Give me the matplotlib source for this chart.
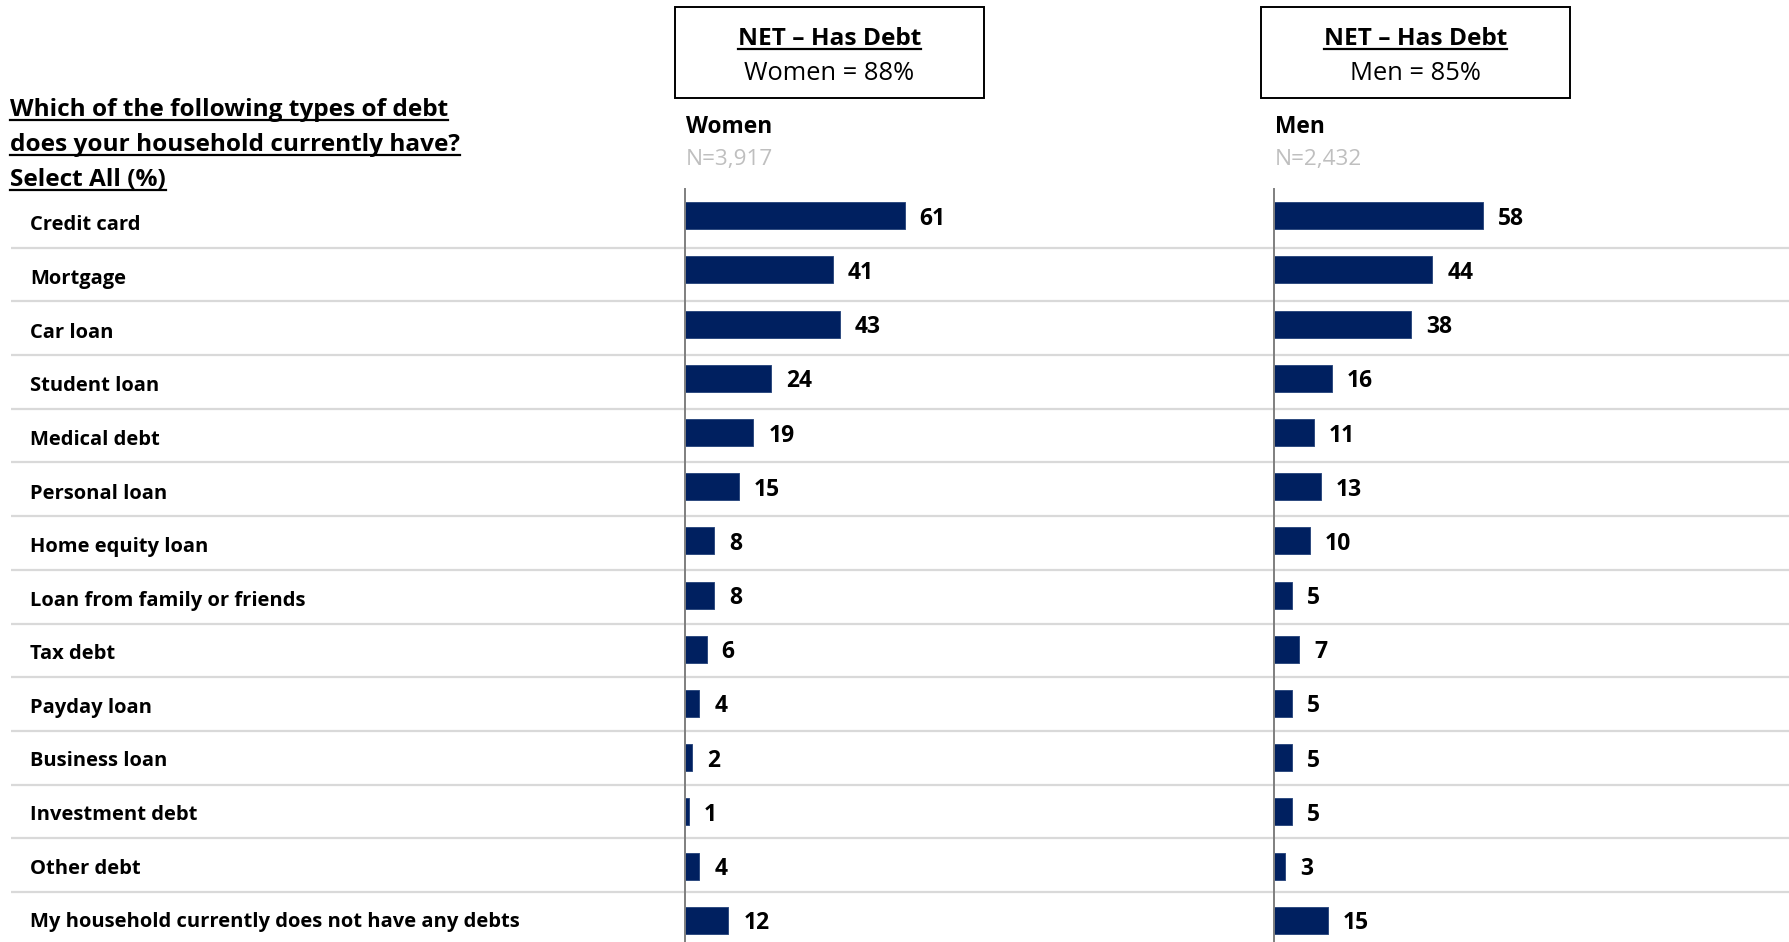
import matplotlib
matplotlib.use("Agg")
import matplotlib.pyplot as plt
from matplotlib.lines import Line2D
from matplotlib.patches import Rectangle

# ---- data -------------------------------------------------------------
categories = [
    "Credit card",
    "Mortgage",
    "Car loan",
    "Student loan",
    "Medical debt",
    "Personal loan",
    "Home equity loan",
    "Loan from family or friends",
    "Tax debt",
    "Payday loan",
    "Business loan",
    "Investment debt",
    "Other debt",
    "My household currently does not have any debts",
]
women = [61, 41, 43, 24, 19, 15, 8, 8, 6, 4, 2, 1, 4, 12]
men = [58, 44, 38, 16, 11, 13, 10, 5, 7, 5, 5, 5, 3, 15]

groups = ["Women", "Men"]
sample_sizes = ["N=3,917", "N=2,432"]
net_has_debt = [88, 85]
net_title = "NET \u2013 Has Debt"
title_lines = [
    "Which of the following types of debt",
    "does your household currently have?",
    "Select All (%)",
]

# ---- styling ----------------------------------------------------------
FONT = "Open Sans"
NAVY = "#002060"
GRID = "#d9d9d9"
AXIS = "#7f7f7f"
NCOLOR = "#bfbfbf"

W, H = 1789, 942
fig = plt.figure(figsize=(W / 100, H / 100), dpi=100)
fig.patch.set_facecolor("white")


def fx(px):
    return px / W


def fy(py):
    return 1 - py / H


n = len(categories)
row_top, row_h = 188.6, 54.2
rect_y = fy(row_top + row_h * n)
rect_h = row_h * n / H


def row_from_px(py):
    """Convert a vertical pixel position into the row coordinate."""
    return (py - row_top) / row_h - 0.5


# background axes for row labels and separators
bg = fig.add_axes([0, rect_y, 1, rect_h])
bg.set_xlim(0, W)
bg.set_ylim(n - 0.5, -0.5)
bg.axis("off")
sep_first, sep_step = 247.6, 53.7
for i in range(n - 1):
    yy = row_from_px(sep_first + sep_step * i)
    bg.plot([11, W], [yy, yy], color=GRID, lw=1.6,
            solid_capstyle="butt", zorder=0)
label_first, label_step = 225.5, 53.6
for i, cat in enumerate(categories):
    bg.text(30, row_from_px(label_first + label_step * i), cat,
            fontfamily=FONT, fontweight="bold", fontsize=14.5,
            va="center", ha="left", color="black")

# bar panels
panel_left = [685, 1274]
px_per_unit = 3.6
series = [women, men]

for left, vals in zip(panel_left, series):
    ax = fig.add_axes([fx(left), rect_y, 100 * px_per_unit / W, rect_h])
    ax.set_xlim(0, 100)
    ax.set_ylim(n - 0.5, -0.5)
    ax.patch.set_alpha(0)
    ax.barh(range(n), vals, height=0.5, color=NAVY, edgecolor="#2f4b80",
            linewidth=0.7, zorder=2)
    for i, v in enumerate(vals):
        ax.annotate(str(v), xy=(v, i), xytext=(10.8, 0),
                    textcoords="offset points", va="center_baseline",
                    ha="left", fontfamily=FONT, fontweight="bold",
                    fontsize=16.5, color="black")
    for side in ("top", "right", "bottom"):
        ax.spines[side].set_visible(False)
    ax.spines["left"].set_color(AXIS)
    ax.spines["left"].set_linewidth(1.4)
    ax.set_xticks([])
    ax.set_yticks([])

# group headers and sample sizes
underlined = []
for left, grp, ns in zip(panel_left, groups, sample_sizes):
    fig.text(fx(left + 1), fy(133), grp, fontfamily=FONT, fontweight="bold",
             fontsize=16.4, va="baseline", ha="left", color="black")
    fig.text(fx(left + 1), fy(165.5), ns, fontfamily=FONT, fontsize=16.2,
             va="baseline", ha="left", color=NCOLOR)

# NET boxes
boxes = [(675, 984), (1261, 1570)]
for (x0, x1), grp, pct in zip(boxes, groups, net_has_debt):
    fig.add_artist(Rectangle((fx(x0), fy(98)), (x1 - x0) / W, (98 - 7) / H,
                             transform=fig.transFigure, fill=False,
                             ec="black", lw=1.4))
    cx = fx((x0 + x1) / 2)
    t = fig.text(cx, fy(45), net_title, fontfamily=FONT, fontweight="bold",
                 fontsize=17.6, va="baseline", ha="center", color="black")
    underlined.append((t, 45))
    fig.text(cx, fy(80), f"{grp} = {pct}%", fontfamily=FONT, fontsize=18.4,
             va="baseline", ha="center", color="black")

# question title
for line, base in zip(title_lines, [116, 151, 186]):
    t = fig.text(fx(10), fy(base), line, fontfamily=FONT, fontweight="bold",
                 fontsize=17.6, va="baseline", ha="left", color="black")
    underlined.append((t, base))

# underline the emphasised texts
fig.canvas.draw()
renderer = fig.canvas.get_renderer()
for t, base in underlined:
    bb = t.get_window_extent(renderer)
    yline = fy(base + 4)
    fig.add_artist(Line2D([bb.x0 / W, bb.x1 / W], [yline, yline],
                          transform=fig.transFigure, color="black", lw=1.6))

fig.savefig("out.png", dpi=100, facecolor="white")
